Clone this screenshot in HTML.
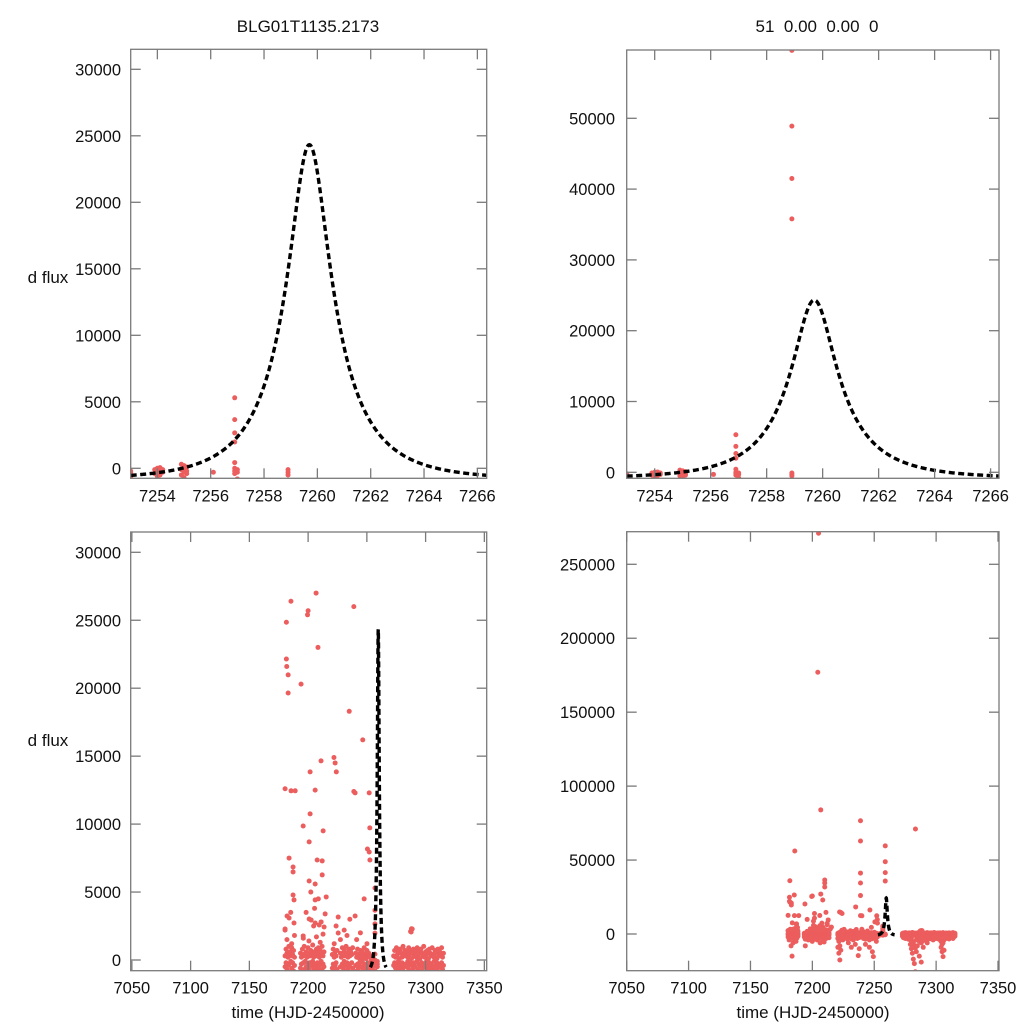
<!DOCTYPE html>
<html><head><meta charset="utf-8">
<style>
html,body{margin:0;padding:0;background:#fff;width:1024px;height:1024px;overflow:hidden;}
svg{display:block;font-family:"Liberation Sans",Arial,sans-serif;}
</style></head>
<body>
<svg id="chart" width="1024" height="1024" viewBox="0 0 1024 1024" xmlns="http://www.w3.org/2000/svg">
<rect x="0" y="0" width="1024" height="1024" fill="#fff"/>
<text x="308" y="32" text-anchor="middle" font-size="17" fill="#111">BLG01T1135.2173</text>
<text x="817" y="32" text-anchor="middle" font-size="17" fill="#111" xml:space="preserve">51  0.00  0.00  0</text>
<text x="48" y="283" text-anchor="middle" font-size="17" fill="#111">d flux</text>
<text x="48" y="746" text-anchor="middle" font-size="17" fill="#111">d flux</text>
<text x="308" y="1018" text-anchor="middle" font-size="17" fill="#111">time (HJD-2450000)</text>
<text x="813" y="1018" text-anchor="middle" font-size="17" fill="#111">time (HJD-2450000)</text>
</svg>
<script>
// ---- event zoom data (time, fluxes) ----
const eventTimes = [7253.0,7253.9,7254.0,7254.1,7254.2,7254.9,7255.0,7255.1,7256.1,7256.9,7257.0,7258.9];
const eventFluxes = [[-200,-450,-700,-350],[-100,-400],[0,-300,-600],[50,-200,-500],[-100,-300],[300,-100,-500],[200,0,-300,-700],[100,-200,-400],[-300],[5300,3660,2660,1980,430,0,-200,-400],[-100,-300,-800],[59600,48900,41500,35800,-100,-300,-500]];
// ---- season baseline data ----
const seasonTimes = [7180.4,7181.2,7182.0,7182.8,7183.6,7184.4,7185.2,7186.0,7186.8,7187.6,7188.4,
7193.5,7194.3,7195.1,7195.9,7196.7,7197.5,7198.3,7199.1,7199.9,7200.7,7201.5,7202.3,7203.1,7203.9,7204.7,7205.5,7206.3,7207.1,7207.9,7208.7,7209.5,7210.3,7211.1,7211.9,7212.7,7213.5,
7220.6,7221.4,7222.2,7223.0,7223.8,7224.6,
7227.5,7228.3,7229.1,7229.9,7230.7,7231.5,7232.3,7233.1,7233.9,7234.7,7235.5,7236.3,7237.1,7237.9,
7240.5,7241.3,7242.1,7242.9,7243.7,7244.5,7245.3,7246.1,7246.9,7247.7,7248.5,7249.3,7250.1,7250.9,7251.7,7252.5,
7272.8,7273.6,7274.4,7275.2,7276.0,7276.8,7277.6,7278.4,7279.2,7280.0,7280.8,7281.6,7282.4,7283.2,7284.0,7284.8,7285.6,7286.4,7287.2,7288.0,7288.8,7289.6,7290.4,7291.2,7292.0,7292.8,7293.6,7294.4,7295.2,7296.0,7296.8,7297.6,7298.4,7299.2,7300.0,7300.8,7301.6,7302.4,7303.2,7304.0,7304.8,7305.6,7306.4,7307.2,7308.0,7308.8,7309.6,7310.4,7311.2,7312.0,7312.8,7313.6,7314.4,7315.2];
const seasonFluxes = [
[300,-500,-2000,2200],[800,-200,-1200,-4000],[500,-700,-2500,1500],[200,-400,-3000,-8000],[1000,-300,-1500,-15000],[600,-900,-2200,-6000],[300,-100,-1800,3500],[900,-600,-3500,1200],[400,-200,-1000,-5000],[700,-800,-2700],[200,-400,-1500,1800],
[500,-600,-2000],[200,-300,-3500,-8000],[800,-900,-1500],[400,-200,-2500,1600],[1000,-700,-4000],[300,-100,-1200],[600,-500,-3000,3500],[200,-800,-2000],[900,-300,-1500,-5000],[500,-600,-2500,1400],[300,-200,-3500],[700,-900,-1800,5000],[400,-400,-2200],[1100,-100,-3000,-4000],[200,-700,-1500,2500],[600,-300,-2700,3800],[300,-500,-1000,-6000],[800,-800,-2000,1700],[500,-200,-3200],[900,-600,-1400,4500],[200,-400,-2600,-5400],[700,-900,-1700,1300],[400,-100,-3000,2800],[1000,-700,-2200],[300,-300,-1200,1900],[600,-500,-2500],
[400,-600,-3000,-9000],[800,-300,-5000,-13000],[200,-800,-8000,-17600,1200],[600,-400,-2500,-11000],[300,-200,-1500,2500],[700,-700,-4000],
[500,-500,-2000,1500],[200,-900,-3500],[900,-300,-1200,-6000],[400,-600,-2800],[700,-100,-1600,2200],[300,-800,-3200,-9000],[1000,-400,-2000],[500,-200,-4000,1800],[200,-700,-1400],[800,-500,-2600,-7000],[300,-300,-1800,3000],[600,-900,-3000],[400,-200,-1200,-14600],[900,-600,-2400,-10000],
[500,-400,-2000],[200,-800,-3000,1500],[800,-300,-1500],[400,-600,-3500,-7000],[100,-200,-2200],[700,-900,-1200,2000],[300,-500,-2800],[600,-100,-4000,-9000],[200,-700,-1800],[900,-300,-2500,4500],[400,-600,-3200,-12000],[100,-400,-1500,-15300],[700,-800,-2200,1200],[300,-200,-3000],[500,-600,-1400,-5000],[200,-300,-2000],
[300,-400,-1500],[700,-200,-2500],[200,-600,-1200],[900,-300,-3000],[400,-800,-2000],[600,-100,-1500],[100,-500,-3500],[800,-300,-2200],[500,-700,-4000,-7000],[200,-200,-2800,-10000],[1000,-600,-5000,-13000],[400,-400,-6000,-17000],[700,-900,-8000,-20000],[300,-300,-9500,-25500],[600,-500,-4000,-12000],[200,-100,-3000,-8000],[900,-700,-2500],[400,-400,-5000,-15000],[700,-200,-3500,2100],[100,-800,-6000,-19000,2300],[500,-300,-2000],[800,-600,-4500,-9000],[300,-200,-1800],[600,-500,-3000],[200,-900,-2200],[900,-100,-3800,-6000],[400,-700,-1500],[700,-300,-2600],[100,-400,-3200],[800,-800,-1200],[500,-200,-2800],[300,-600,-4000],[1000,-300,-2000],[200,-500,-1600],[600,-900,-3000],[400,-100,-2400],[700,-700,-1800],[100,-400,-3600],[800,-200,-2200],[500,-600,-5000,-9000],[300,-300,-7000,-12000],[900,-800,-6000,-15300],[400,-500,-4000,-11000],[200,-100,-2000],[700,-700,-3000],[500,-400,-1500],[100,-200,-2600],[800,-600,-3400],[300,-900,-1800],[600,-300,-2400],[400,-500,-1200],[900,-200,-3000],[200,-700,-2000],[500,-400,-1500]];
// ---- outliers ----
const outlierTimes = [7205.0,7204.4,7206.8,7238.9,7238.9,7283.3,7185.8,7181.8,7210.0,7210.0,7210.0,7185.4,7181.8,7200.0,7194.0,7206.8,7208.4,7238.9,7238.9,7238.9,7238.9,7235.0,7222.0,7246.5,7181.5,7183.0,7183.0,7181.5,7199.5,
7180.4,7185.5,7189.0,7201.7,7206.0,7211.0,7223.0,7224.0,7240.0,7252.0,7201.7,7195.8,7212.8,7200.9,7183.8,7187.2,7187.2,7207.7,7212.0,7212.0,7200.9,7206.0,7215.4,7187.2,7188.0,7206.0,7214.5,7182.1,7183.8,7188.0,7200.9,7202.6,7206.0,7209.4,7213.6,7225.6,7225.6,7180.4,7195.8,7240.0,7252.5,7250.5,7252.0,7252.6,7288.6,7287.7];
const outlierFluxes = [271000,177000,83900,76600,62900,71000,56100,36000,36500,34500,31800,26400,21600,25700,20300,27000,23000,41200,34500,26000,12400,18300,14900,16200,22150,20980,19650,24850,25400,
12600,12450,12450,13840,12500,14650,14500,13840,12300,12300,10750,9860,9500,8690,7500,6840,6480,7360,7290,6260,5810,5590,4640,4780,4420,4420,3390,3240,3090,2720,3020,2940,2720,2580,2430,3160,1990,2280,1770,3240,9720,8170,7950,7360,2280,2060];
// ---- microlensing model parameters ----
const modelParams = [7259.7, 2.7, 0.3, 10300, -850]; // t0, tE, u0, source flux, baseline
const modelStart = [7253.0];
const modelEnd = [7266.4];

// ---- panel axes ----
const panels = [
  {name:'top-left', x0:130.7, x1:486.7, dom:[7253,7266.35], top:49.3, bot:478.3, yA:[0,468.3], yB:[30000,69.3], xt:[7254,7256,7258,7260,7262,7264,7266], yt:[0,5000,10000,15000,20000,25000,30000], ylx:121},
  {name:'top-right', x0:626.7, x1:999, dom:[7253,7266.3], top:50, bot:478.3, yA:[0,472.3], yB:[50000,118.3], xt:[7254,7256,7258,7260,7262,7264,7266], yt:[0,10000,20000,30000,40000,50000], ylx:615},
  {name:'bottom-left', x0:130.7, x1:486.7, dom:[7049,7352], top:532, bot:970.7, yA:[0,960], yB:[30000,552.3], xt:[7050,7100,7150,7200,7250,7300,7350], yt:[0,5000,10000,15000,20000,25000,30000], ylx:121},
  {name:'bottom-right', x0:626.7, x1:999, dom:[7050,7350.8], top:531.7, bot:970.7, yA:[0,934], yB:[250000,564.3], xt:[7050,7100,7150,7200,7250,7300,7350], yt:[0,50000,100000,150000,200000,250000], ylx:615}
];

const NS='http://www.w3.org/2000/svg';
const svg=document.getElementById('chart');
function mk(tag, attrs, parent){const e=document.createElementNS(NS,tag);for(const k in attrs)e.setAttribute(k,attrs[k]);(parent||svg).appendChild(e);return e;}
function magnification(t){
  const [t0,tE,u0]=modelParams;
  const tau=(t-t0)/tE; const u=Math.sqrt(u0*u0+tau*tau);
  return (u*u+2)/(u*Math.sqrt(u*u+4));
}
function modelFlux(t){return modelParams[3]*(magnification(t)-1)+modelParams[4];}

const defs=mk('defs',{});
panels.forEach((p,pi)=>{
  const xs=v=>p.x0+(v-p.dom[0])/(p.dom[1]-p.dom[0])*(p.x1-p.x0);
  const ys=v=>p.yA[1]+(v-p.yA[0])/(p.yB[0]-p.yA[0])*(p.yB[1]-p.yA[1]);
  const cp=mk('clipPath',{id:'clip'+pi},defs);
  mk('rect',{x:p.x0,y:p.top,width:p.x1-p.x0,height:p.bot-p.top},cp);
  const g=mk('g',{});
  
  
  const pts=mk('g',{'clip-path':'url(#clip'+pi+')',fill:'#ec5d5d'},g);
  
  
  function dot(t,f){
    const c=mk('circle',{cx:xs(t).toFixed(2),cy:ys(f).toFixed(2),r:2.5},pts);
    
    
  }
  eventTimes.forEach((t,i)=>eventFluxes[i].forEach(f=>dot(t,f)));
  seasonTimes.forEach((t,i)=>seasonFluxes[i].forEach(f=>dot(t,f)));
  outlierTimes.forEach((t,i)=>dot(t,outlierFluxes[i]));
  let d='';
  const n=400;
  for(let k=0;k<=n;k++){
    const t=modelStart[0]+(modelEnd[0]-modelStart[0])*k/n;
    d+=(k?'L':'M')+xs(t).toFixed(2)+' '+ys(modelFlux(t)).toFixed(2);
  }
  const m=mk('path',{d:d,fill:'none',stroke:'#000','stroke-width':3.4,'stroke-dasharray':'6 3.5','clip-path':'url(#clip'+pi+')'},g);
  
  
  const fr=mk('rect',{x:p.x0,y:p.top,width:p.x1-p.x0,height:p.bot-p.top,fill:'none',stroke:'#7a7a7a','stroke-width':1.3},g);
  
  
  p.xt.forEach(v=>{
    const x=xs(v);
    mk('line',{x1:x,x2:x,y1:p.bot,y2:p.bot-10,stroke:'#7a7a7a','stroke-width':1.3},g);
    mk('line',{x1:x,x2:x,y1:p.top,y2:p.top+10,stroke:'#7a7a7a','stroke-width':1.3},g);
    const tx=mk('text',{x:x,y:p.bot+23,'text-anchor':'middle','font-size':16.5,fill:'#111'},g);
    tx.textContent=v;
    
    
  });
  p.yt.forEach(v=>{
    const y=ys(v);
    mk('line',{x1:p.x0,x2:p.x0+10,y1:y,y2:y,stroke:'#7a7a7a','stroke-width':1.3},g);
    mk('line',{x1:p.x1,x2:p.x1-10,y1:y,y2:y,stroke:'#7a7a7a','stroke-width':1.3},g);
    const ty=mk('text',{x:p.ylx,y:y+6,'text-anchor':'end','font-size':16.5,fill:'#111'},g);
    ty.textContent=v;
    
    
  });
});
</script>
</body></html>
